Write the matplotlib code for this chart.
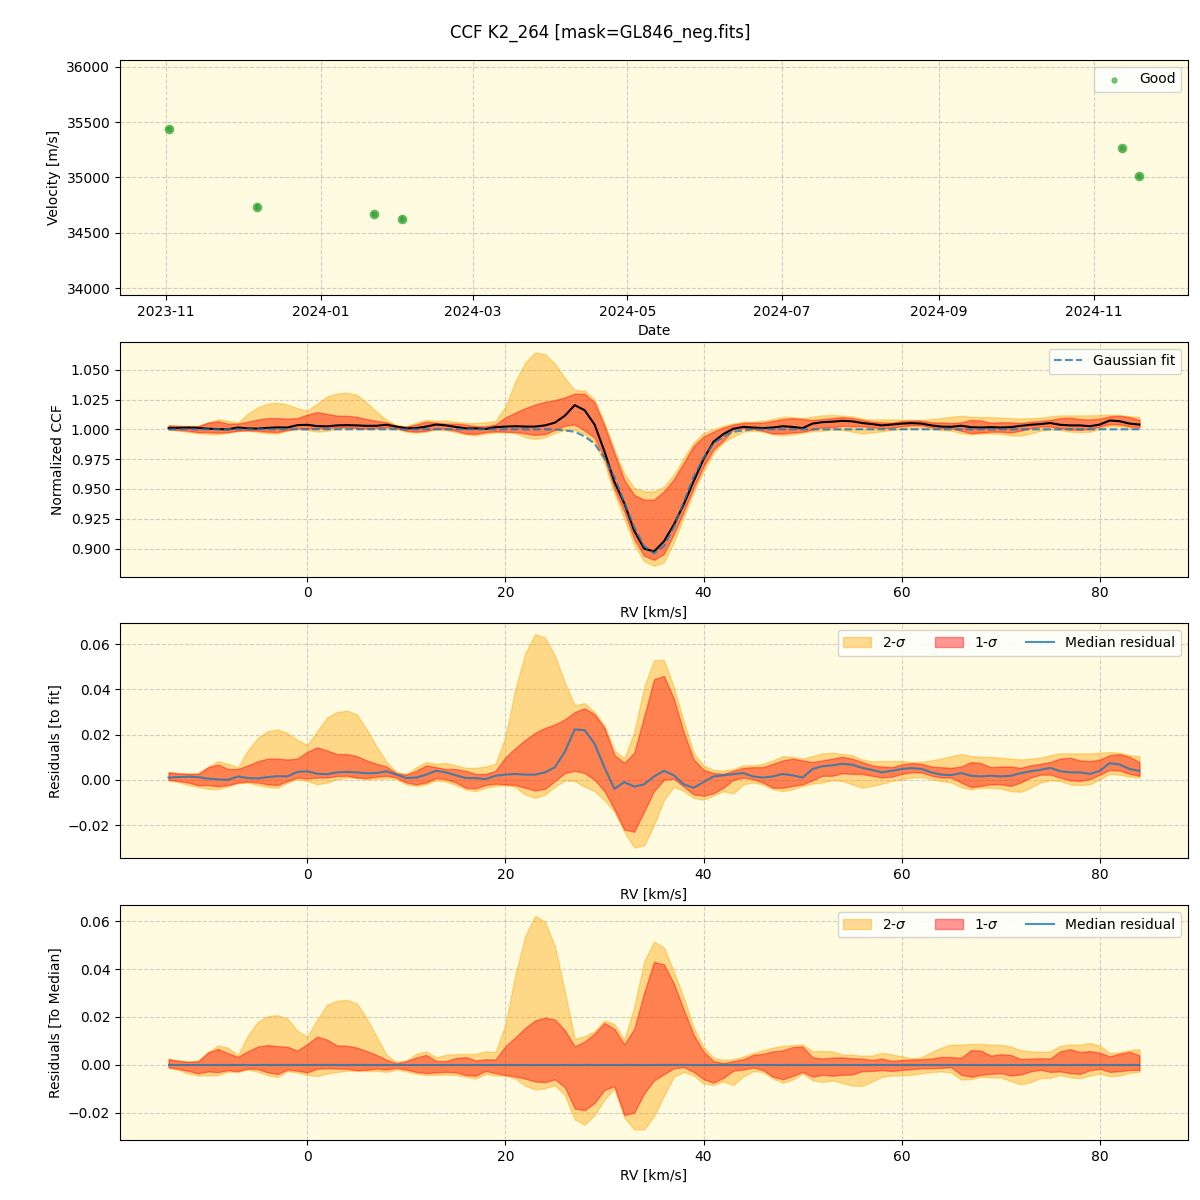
import numpy as np
import pandas as pd
import matplotlib
matplotlib.use("Agg")
import matplotlib.pyplot as plt
import matplotlib.dates as mdates

# --- RV time series (top panel) ---
obs_dates = ["2023-11-02", "2023-12-07", "2024-01-22", "2024-02-02", "2024-11-12", "2024-11-19"]
obs_vel = [35439, 34733, 34670, 34624, 35267, 35014]
obs_err = [15, 30, 15, 30, 15, 15]

# --- CCF grid [km/s] ---
rv = np.arange(-14, 85)

# gaussian fit to the CCF
fit = [1.0] * 39 + [
    1.000, 0.999, 0.998, 0.994, 0.988, 0.976, 0.960, 0.939, 0.918, 0.902,
    0.896, 0.902, 0.918, 0.939, 0.960, 0.976, 0.988, 0.994, 0.998, 0.999,
    1.000] + [1.0] * 39

# percentile bands of the normalized CCFs (panel 2)
ccf_2hi = [
    1.0035, 1.0030, 1.0028, 1.0030, 1.0058, 1.0083, 1.0071, 1.0055, 1.0130, 1.0185,
    1.0215, 1.0223, 1.0207, 1.0177, 1.0155, 1.0215, 1.0276, 1.0300, 1.0306, 1.0290,
    1.0223, 1.0147, 1.0079, 1.0035, 1.0025, 1.0056, 1.0079, 1.0071, 1.0074, 1.0064,
    1.0053, 1.0053, 1.0059, 1.0071, 1.0190, 1.0400, 1.0560, 1.0645, 1.0630, 1.0550,
    1.0430, 1.0330, 1.0325, 1.0250, 1.0056, 0.9830, 0.9630, 0.9510, 0.9480, 0.9480,
    0.9520, 0.9620, 0.9760, 0.9890, 0.9970, 1.0000, 1.0030, 1.0048, 1.0064, 1.0064,
    1.0071, 1.0086, 1.0105, 1.0102, 1.0094, 1.0105, 1.0117, 1.0120, 1.0114, 1.0109,
    1.0090, 1.0082, 1.0083, 1.0083, 1.0083, 1.0079, 1.0079, 1.0086, 1.0094, 1.0105,
    1.0114, 1.0105, 1.0102, 1.0102, 1.0098, 1.0094, 1.0090, 1.0094, 1.0098, 1.0109,
    1.0117, 1.0117, 1.0117, 1.0117, 1.0120, 1.0123, 1.0120, 1.0109, 1.0105]

ccf_1hi = [
    1.0033, 1.0028, 1.0026, 1.0026, 1.0056, 1.0068, 1.0048, 1.0048, 1.0064, 1.0082,
    1.0094, 1.0094, 1.0090, 1.0094, 1.0124, 1.0144, 1.0130, 1.0114, 1.0114, 1.0105,
    1.0086, 1.0071, 1.0059, 1.0029, 1.0023, 1.0040, 1.0064, 1.0056, 1.0048, 1.0048,
    1.0040, 1.0026, 1.0026, 1.0040, 1.0100, 1.0140, 1.0177, 1.0208, 1.0230, 1.0245,
    1.0268, 1.0300, 1.0297, 1.0226, 1.0030, 0.9800, 0.9576, 0.9450, 0.9410, 0.9410,
    0.9480, 0.9580, 0.9720, 0.9860, 0.9940, 0.9980, 1.0015, 1.0040, 1.0053, 1.0056,
    1.0056, 1.0071, 1.0086, 1.0094, 1.0086, 1.0079, 1.0086, 1.0094, 1.0102, 1.0094,
    1.0079, 1.0064, 1.0059, 1.0056, 1.0068, 1.0074, 1.0071, 1.0059, 1.0056, 1.0053,
    1.0059, 1.0079, 1.0074, 1.0056, 1.0059, 1.0059, 1.0053, 1.0064, 1.0071, 1.0079,
    1.0094, 1.0098, 1.0086, 1.0083, 1.0090, 1.0109, 1.0114, 1.0102, 1.0079]

ccf_1lo = [
    1.0000, 0.9995, 0.9988, 0.9976, 0.9977, 0.9971, 0.9977, 0.9988, 0.9992, 0.9988,
    0.9980, 0.9977, 0.9995, 1.0010, 1.0006, 1.0010, 1.0010, 1.0017, 1.0018, 1.0010,
    1.0008, 1.0014, 1.0018, 1.0010, 0.9988, 0.9980, 0.9988, 1.0008, 1.0003, 0.9988,
    0.9965, 0.9962, 0.9977, 0.9983, 0.9980, 0.9977, 0.9965, 0.9953, 0.9960, 0.9995,
    1.0030, 1.0040, 0.9990, 0.9930, 0.9760, 0.9500, 0.9310, 0.9080, 0.8940, 0.8905,
    0.8955, 0.9120, 0.9310, 0.9510, 0.9690, 0.9830, 0.9905, 1.0000, 1.0010, 1.0003,
    0.9988, 0.9965, 0.9965, 0.9973, 0.9980, 0.9998, 1.0018, 1.0018, 1.0029, 1.0026,
    1.0026, 1.0018, 1.0010, 1.0014, 1.0026, 1.0033, 1.0033, 1.0018, 1.0010, 1.0010,
    0.9988, 0.9968, 0.9973, 0.9980, 0.9980, 0.9973, 0.9988, 1.0010, 1.0023, 1.0023,
    1.0010, 0.9998, 0.9995, 1.0003, 1.0023, 1.0044, 1.0041, 1.0026, 1.0018]

ccf_2lo = [
    0.9997, 0.9990, 0.9977, 0.9968, 0.9960, 0.9959, 0.9971, 0.9985, 0.9988, 0.9977,
    0.9968, 0.9965, 0.9988, 1.0003, 0.9995, 0.9980, 0.9988, 1.0003, 1.0010, 1.0008,
    1.0002, 1.0005, 1.0008, 1.0003, 0.9980, 0.9973, 0.9980, 0.9998, 0.9992, 0.9977,
    0.9958, 0.9950, 0.9965, 0.9973, 0.9977, 0.9968, 0.9935, 0.9920, 0.9935, 0.9970,
    0.9997, 0.9995, 0.9960, 0.9887, 0.9720, 0.9460, 0.9250, 0.9030, 0.8895, 0.8855,
    0.8885, 0.9050, 0.9260, 0.9470, 0.9650, 0.9800, 0.9890, 0.9940, 0.9980, 0.9988,
    0.9980, 0.9958, 0.9950, 0.9958, 0.9973, 0.9983, 0.9988, 0.9998, 0.9995, 0.9980,
    0.9965, 0.9973, 0.9983, 0.9995, 1.0003, 1.0010, 1.0012, 1.0003, 0.9995, 0.9988,
    0.9968, 0.9958, 0.9965, 0.9965, 0.9962, 0.9950, 0.9947, 0.9965, 0.9988, 0.9998,
    0.9995, 0.9980, 0.9977, 0.9980, 1.0003, 1.0026, 1.0023, 1.0014, 1.0010]

# median residual (CCF - fit)
med = [
    0.0010, 0.0012, 0.0014, 0.0012, 0.0005, 0.0002, 0.0000, 0.0015, 0.0008, 0.0006,
    0.0012, 0.0016, 0.0015, 0.0035, 0.0038, 0.0027, 0.0025, 0.0033, 0.0035, 0.0033,
    0.0029, 0.0030, 0.0038, 0.0023, 0.0008, 0.0010, 0.0023, 0.0040, 0.0033, 0.0020,
    0.0008, 0.0008, 0.0003, 0.0018, 0.0023, 0.0026, 0.0023, 0.0023, 0.0033, 0.0056,
    0.0124, 0.0223, 0.0220, 0.0160, 0.0055, -0.0040, -0.0010, -0.0030, -0.0020, 0.0015,
    0.0040, 0.0020, -0.0020, -0.0035, -0.0010, 0.0015, 0.0020, 0.0025, 0.0030, 0.0015,
    0.0010, 0.0015, 0.0026, 0.0020, 0.0010, 0.0048, 0.0060, 0.0064, 0.0071, 0.0067,
    0.0053, 0.0044, 0.0033, 0.0040, 0.0048, 0.0052, 0.0048, 0.0033, 0.0023, 0.0021,
    0.0030, 0.0018, 0.0015, 0.0018, 0.0015, 0.0018, 0.0029, 0.0038, 0.0044, 0.0053,
    0.0038, 0.0033, 0.0033, 0.0026, 0.0040, 0.0074, 0.0068, 0.0048, 0.0040]

sig1_hi = [
    0.0033, 0.0028, 0.0026, 0.0026, 0.0056, 0.0068, 0.0048, 0.0048, 0.0064, 0.0082,
    0.0094, 0.0094, 0.0090, 0.0094, 0.0124, 0.0144, 0.0130, 0.0114, 0.0114, 0.0105,
    0.0086, 0.0071, 0.0059, 0.0029, 0.0023, 0.0040, 0.0064, 0.0056, 0.0048, 0.0048,
    0.0040, 0.0026, 0.0026, 0.0040, 0.0100, 0.0140, 0.0177, 0.0208, 0.0230, 0.0245,
    0.0268, 0.0300, 0.0317, 0.0290, 0.0230, 0.0110, 0.0075, 0.0120, 0.0280, 0.0445,
    0.0460, 0.0360, 0.0210, 0.0090, 0.0045, 0.0030, 0.0027, 0.0040, 0.0053, 0.0056,
    0.0056, 0.0071, 0.0086, 0.0094, 0.0086, 0.0079, 0.0086, 0.0094, 0.0102, 0.0094,
    0.0079, 0.0064, 0.0059, 0.0056, 0.0068, 0.0074, 0.0071, 0.0059, 0.0056, 0.0053,
    0.0059, 0.0079, 0.0074, 0.0056, 0.0059, 0.0059, 0.0053, 0.0064, 0.0071, 0.0079,
    0.0094, 0.0098, 0.0086, 0.0083, 0.0090, 0.0109, 0.0114, 0.0102, 0.0079]

sig1_lo = [
    0.0000, -0.0005, -0.0012, -0.0024, -0.0023, -0.0029, -0.0023, -0.0012, -0.0008, -0.0012,
    -0.0020, -0.0023, -0.0005, 0.0010, 0.0006, 0.0010, 0.0010, 0.0017, 0.0018, 0.0010,
    0.0008, 0.0014, 0.0018, 0.0010, -0.0012, -0.0020, -0.0012, 0.0008, 0.0003, -0.0012,
    -0.0035, -0.0038, -0.0023, -0.0017, -0.0020, -0.0023, -0.0035, -0.0047, -0.0040, -0.0005,
    0.0030, 0.0040, 0.0030, 0.0000, -0.0050, -0.0130, -0.0220, -0.0230, -0.0140, -0.0050,
    0.0000, 0.0005, -0.0030, -0.0065, -0.0070, -0.0060, -0.0035, 0.0000, 0.0010, 0.0003,
    -0.0012, -0.0035, -0.0035, -0.0027, -0.0020, -0.0002, 0.0018, 0.0018, 0.0029, 0.0026,
    0.0026, 0.0018, 0.0010, 0.0014, 0.0026, 0.0033, 0.0033, 0.0018, 0.0010, 0.0010,
    -0.0012, -0.0032, -0.0027, -0.0020, -0.0020, -0.0027, -0.0012, 0.0010, 0.0023, 0.0023,
    0.0010, -0.0002, -0.0005, 0.0003, 0.0023, 0.0044, 0.0041, 0.0026, 0.0018]

sig2_hi = [
    0.0035, 0.0030, 0.0028, 0.0030, 0.0058, 0.0083, 0.0071, 0.0055, 0.0130, 0.0185,
    0.0215, 0.0223, 0.0207, 0.0177, 0.0155, 0.0215, 0.0276, 0.0300, 0.0306, 0.0290,
    0.0223, 0.0147, 0.0079, 0.0035, 0.0025, 0.0056, 0.0079, 0.0071, 0.0074, 0.0064,
    0.0053, 0.0053, 0.0059, 0.0071, 0.0190, 0.0400, 0.0560, 0.0645, 0.0630, 0.0550,
    0.0430, 0.0330, 0.0340, 0.0300, 0.0240, 0.0130, 0.0095, 0.0210, 0.0410, 0.0530,
    0.0530, 0.0410, 0.0260, 0.0120, 0.0064, 0.0044, 0.0041, 0.0048, 0.0064, 0.0064,
    0.0071, 0.0086, 0.0105, 0.0102, 0.0094, 0.0105, 0.0117, 0.0120, 0.0114, 0.0109,
    0.0090, 0.0082, 0.0083, 0.0083, 0.0083, 0.0079, 0.0079, 0.0086, 0.0094, 0.0105,
    0.0114, 0.0105, 0.0102, 0.0102, 0.0098, 0.0094, 0.0090, 0.0094, 0.0098, 0.0109,
    0.0117, 0.0117, 0.0117, 0.0117, 0.0120, 0.0123, 0.0120, 0.0109, 0.0105]

sig2_lo = [
    -0.0003, -0.0010, -0.0023, -0.0032, -0.0040, -0.0041, -0.0029, -0.0015, -0.0012, -0.0023,
    -0.0032, -0.0035, -0.0012, 0.0003, -0.0005, -0.0020, -0.0012, 0.0003, 0.0010, 0.0008,
    0.0002, 0.0005, 0.0008, 0.0003, -0.0020, -0.0027, -0.0020, -0.0002, -0.0008, -0.0023,
    -0.0042, -0.0050, -0.0035, -0.0027, -0.0023, -0.0032, -0.0065, -0.0080, -0.0065, -0.0030,
    -0.0003, -0.0005, -0.0030, -0.0050, -0.0090, -0.0140, -0.0230, -0.0300, -0.0290, -0.0200,
    -0.0090, -0.0030, -0.0050, -0.0080, -0.0088, -0.0070, -0.0050, -0.0060, -0.0020, -0.0012,
    -0.0020, -0.0042, -0.0050, -0.0042, -0.0027, -0.0017, -0.0012, -0.0002, -0.0005, -0.0020,
    -0.0035, -0.0027, -0.0017, -0.0005, 0.0003, 0.0010, 0.0012, 0.0003, -0.0005, -0.0012,
    -0.0032, -0.0042, -0.0035, -0.0035, -0.0038, -0.0050, -0.0053, -0.0035, -0.0012, -0.0002,
    -0.0005, -0.0020, -0.0023, -0.0020, 0.0003, 0.0026, 0.0023, 0.0014, 0.0010]

BG = "#fefbe1"

fit = np.array(fit)
med = np.array(med)
s1h, s1l = np.array(sig1_hi), np.array(sig1_lo)
s2h, s2l = np.array(sig2_hi), np.array(sig2_lo)

fig, axes = plt.subplots(4, 1, figsize=(12, 12), dpi=100)
fig.subplots_adjust(left=0.1, right=0.99, top=0.95, bottom=0.05, hspace=0.2)
fig.suptitle("CCF K2_264 [mask=GL846_neg.fits]", fontsize=12)

for ax in axes:
    ax.set_facecolor(BG)
    ax.grid(True, linestyle="--", alpha=0.6)
    ax.set_axisbelow(True)

# top: velocities vs date
ax = axes[0]
t = pd.to_datetime(obs_dates)
ax.errorbar(t, obs_vel, yerr=obs_err, fmt="o", color="tab:green", alpha=0.6, ms=6)
ax.scatter(t, obs_vel, s=12, color="tab:green", alpha=0.6, label="Good")
ax.set_ylim(33940, 36060)
ax.xaxis.set_major_locator(mdates.MonthLocator(bymonth=[1, 3, 5, 7, 9, 11]))
ax.xaxis.set_major_formatter(mdates.DateFormatter("%Y-%m"))
ax.set_xlabel("Date")
ax.set_ylabel("Velocity [m/s]")
ax.legend(loc="upper right")

# CCF with bands
ax = axes[1]
ax.fill_between(rv, ccf_2lo, ccf_2hi, color="orange", alpha=0.4)
ax.fill_between(rv, ccf_1lo, ccf_1hi, color="red", alpha=0.4)
ax.plot(rv, fit + med, color="black", lw=1.5)
ax.plot(rv, fit, ls="--", color="tab:blue", alpha=0.8, lw=1.5, label="Gaussian fit")
ax.set_xlabel("RV [km/s]")
ax.set_ylabel("Normalized CCF")
ax.legend(loc="upper right")

# residuals to fit
ax = axes[2]
ax.fill_between(rv, s2l, s2h, color="orange", alpha=0.4, label="2-$\\sigma$")
ax.fill_between(rv, s1l, s1h, color="red", alpha=0.4, label="1-$\\sigma$")
ax.plot(rv, med, color="tab:blue", alpha=0.8, lw=1.5, label="Median residual")
ax.set_xlabel("RV [km/s]")
ax.set_ylabel("Residuals [to fit]")
ax.legend(loc="upper right", ncol=3)

# residuals to median
ax = axes[3]
ax.fill_between(rv, s2l - med, s2h - med, color="orange", alpha=0.4, label="2-$\\sigma$")
ax.fill_between(rv, s1l - med, s1h - med, color="red", alpha=0.4, label="1-$\\sigma$")
ax.plot(rv, med - med, color="tab:blue", alpha=0.8, lw=1.5, label="Median residual")
ax.set_xlabel("RV [km/s]")
ax.set_ylabel("Residuals [To Median]")
ax.legend(loc="upper right", ncol=3)

fig.savefig("out.png", dpi=100)
